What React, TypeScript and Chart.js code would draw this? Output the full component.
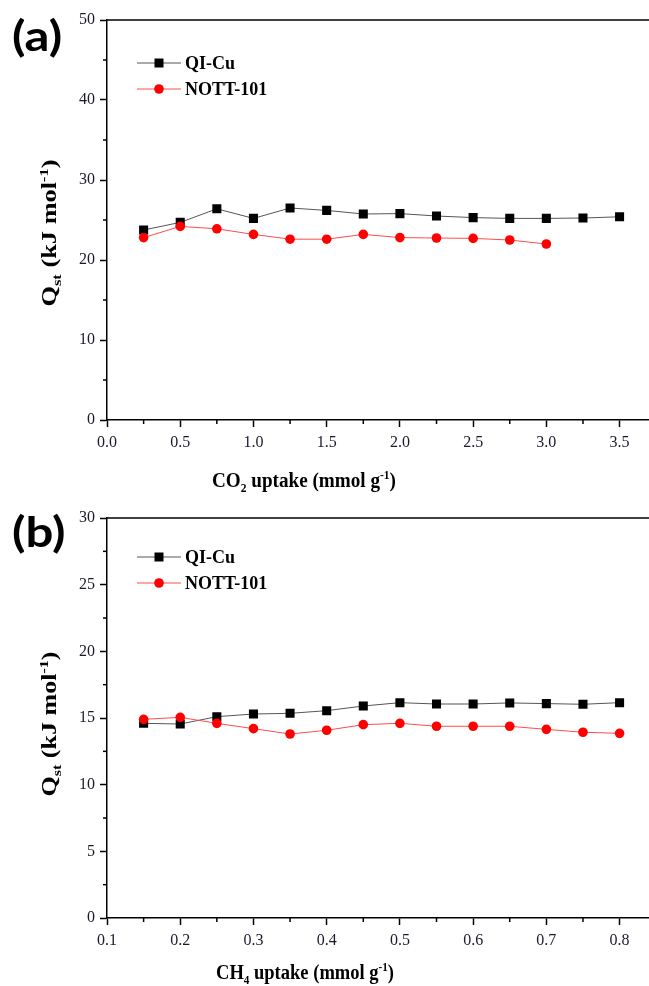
import React, { useEffect, useRef } from "react";
import { Chart, registerables } from "chart.js";
Chart.register(...registerables);

// ---------- data ----------
const co2Uptake = [0.25, 0.5, 0.75, 1.0, 1.25, 1.5, 1.75, 2.0, 2.25, 2.5, 2.75, 3.0, 3.25, 3.5];
const qiCuCO2 = [23.75, 24.7, 26.4, 25.2, 26.5, 26.2, 25.75, 25.8, 25.5, 25.3, 25.2, 25.2, 25.25, 25.4];
const nott101CO2 = [22.8, 24.2, 23.9, 23.2, 22.6, 22.6, 23.2, 22.8, 22.75, 22.7, 22.5, 22.0];

const ch4Uptake = [0.15, 0.2, 0.25, 0.3, 0.35, 0.4, 0.45, 0.5, 0.55, 0.6, 0.65, 0.7, 0.75, 0.8];
const qiCuCH4 = [14.6, 14.55, 15.1, 15.3, 15.35, 15.55, 15.9, 16.15, 16.05, 16.05, 16.13, 16.08, 16.03, 16.15];
const nott101CH4 = [14.9, 15.05, 14.6, 14.2, 13.8, 14.08, 14.5, 14.6, 14.38, 14.38, 14.38, 14.15, 13.93, 13.85];

const seriesNames = ["QI-Cu", "NOTT-101"];

const co2MajorTicks = [0, 0.5, 1.0, 1.5, 2.0, 2.5, 3.0, 3.5];
const co2MinorTicks = [0.25, 0.75, 1.25, 1.75, 2.25, 2.75, 3.25];
const qstMajorTicksA = [0, 10, 20, 30, 40, 50];
const qstMinorTicksA = [5, 15, 25, 35, 45];

const ch4MajorTicks = [0.1, 0.2, 0.3, 0.4, 0.5, 0.6, 0.7, 0.8];
const ch4MinorTicks = [0.15, 0.25, 0.35, 0.45, 0.55, 0.65, 0.75];
const qstMajorTicksB = [0, 5, 10, 15, 20, 25, 30];
const qstMinorTicksB = [2.5, 7.5, 12.5, 17.5, 22.5, 27.5];

const SERIF = '"Liberation Serif", "Times New Roman", serif';
const CANVAS_W = 656;

type Seg = { t: string; k?: "sub" | "sup" };

function segFont(size: number, k?: string) {
  return k ? `bold ${Math.round(size * 0.62)}px ${SERIF}` : `bold ${size}px ${SERIF}`;
}

function drawRich(ctx: CanvasRenderingContext2D, segs: Seg[], cx: number, baseY: number, size: number, targetW: number) {
  let w = 0;
  segs.forEach((s) => {
    ctx.font = segFont(size, s.k);
    w += ctx.measureText(s.t).width;
  });
  const sx = targetW / w;
  ctx.save();
  ctx.translate(cx - targetW / 2, baseY);
  ctx.scale(sx, 1);
  let x = 0;
  ctx.textBaseline = "alphabetic";
  ctx.textAlign = "left";
  segs.forEach((s) => {
    ctx.font = segFont(size, s.k);
    const dy = s.k === "sub" ? size * 0.25 : s.k === "sup" ? -size * 0.4 : 0;
    ctx.fillText(s.t, x, dy);
    x += ctx.measureText(s.t).width;
  });
  ctx.restore();
}

type PanelCfg = {
  height: number;
  top: number;
  xAxisHeight: number;
  xs: number[];
  qi: number[];
  nott: number[];
  xMin: number;
  xMax: number;
  yMax: number;
  xMajor: number[];
  xMinor: number[];
  yMajor: number[];
  yMinor: number[];
  panel: string;
  panelY: number;
  xTitle: Seg[];
  xTitleX: number;
  xTitleY: number;
  xTitleW: number;
  yTitleCenter: number;
  yTitleW: number;
  legendY: number[];
};

const panelA: PanelCfg = {
  height: 495,
  top: 20,
  xAxisHeight: 75,
  xs: co2Uptake,
  qi: qiCuCO2,
  nott: nott101CO2,
  xMin: 0,
  xMax: 3.705,
  yMax: 50,
  xMajor: co2MajorTicks,
  xMinor: co2MinorTicks,
  yMajor: qstMajorTicksA,
  yMinor: qstMinorTicksA,
  panel: "(a)",
  panelY: 37,
  xTitle: [{ t: "CO" }, { t: "2", k: "sub" }, { t: " uptake (mmol g" }, { t: "-1", k: "sup" }, { t: ")" }],
  xTitleX: 304,
  xTitleY: 487,
  xTitleW: 184,
  yTitleCenter: 233,
  yTitleW: 147,
  legendY: [63, 89],
};

const panelB: PanelCfg = {
  height: 491,
  top: 23,
  xAxisHeight: 68,
  xs: ch4Uptake,
  qi: qiCuCH4,
  nott: nott101CH4,
  xMin: 0.1,
  xMax: 0.841,
  yMax: 30,
  xMajor: ch4MajorTicks,
  xMinor: ch4MinorTicks,
  yMajor: qstMajorTicksB,
  yMinor: qstMinorTicksB,
  panel: "(b)",
  panelY: 38,
  xTitle: [{ t: "CH" }, { t: "4", k: "sub" }, { t: " uptake (mmol g" }, { t: "-1", k: "sup" }, { t: ")" }],
  xTitleX: 305,
  xTitleY: 484,
  xTitleW: 178,
  yTitleCenter: 229,
  yTitleW: 145,
  legendY: [62, 88],
};

const yTitle: Seg[] = [{ t: "Q" }, { t: "st", k: "sub" }, { t: " (kJ mol" }, { t: "-1", k: "sup" }, { t: ")" }];

function Panel({ cfg }: { cfg: PanelCfg }) {
  const ref = useRef<HTMLCanvasElement>(null);
  useEffect(() => {
    if (!ref.current) return;
    const decor = {
      id: "decor",
      afterDraw(chart: any) {
        const ctx: CanvasRenderingContext2D = chart.ctx;
        const a = chart.chartArea;
        const xs = chart.scales.x;
        const ys = chart.scales.y;
        ctx.save();
        ctx.strokeStyle = "#000";
        ctx.lineWidth = 1.5;
        // top frame line
        ctx.beginPath();
        ctx.moveTo(a.left, a.top);
        ctx.lineTo(a.right, a.top);
        ctx.stroke();
        // minor ticks
        cfg.xMinor.forEach((v) => {
          const px = xs.getPixelForValue(v);
          ctx.beginPath();
          ctx.moveTo(px, a.bottom);
          ctx.lineTo(px, a.bottom + 4);
          ctx.stroke();
        });
        cfg.yMinor.forEach((v) => {
          const py = ys.getPixelForValue(v);
          ctx.beginPath();
          ctx.moveTo(a.left - 4, py);
          ctx.lineTo(a.left, py);
          ctx.stroke();
        });
        ctx.fillStyle = "#000";
        // x title
        drawRich(ctx, cfg.xTitle, cfg.xTitleX, cfg.xTitleY, 20, cfg.xTitleW);
        // y title (rotated)
        ctx.save();
        ctx.translate(56, cfg.yTitleCenter);
        ctx.rotate(-Math.PI / 2);
        drawRich(ctx, yTitle, 0, 0, 21, cfg.yTitleW);
        ctx.restore();
        // legend
        const styles = [
          { line: "#555", fill: "#000", shape: "rect" },
          { line: "#ff4d4d", fill: "#ff0000", shape: "circle" },
        ];
        seriesNames.forEach((name, i) => {
          const y = cfg.legendY[i];
          const st = styles[i];
          ctx.strokeStyle = st.line;
          ctx.lineWidth = 1;
          ctx.beginPath();
          ctx.moveTo(137, y);
          ctx.lineTo(181, y);
          ctx.stroke();
          ctx.fillStyle = st.fill;
          if (st.shape === "rect") {
            ctx.fillRect(159 - 4.5, y - 4.5, 9, 9);
          } else {
            ctx.beginPath();
            ctx.arc(159, y, 4.8, 0, Math.PI * 2);
            ctx.fill();
          }
          ctx.fillStyle = "#000";
          ctx.font = `bold 18px ${SERIF}`;
          ctx.textAlign = "left";
          ctx.textBaseline = "middle";
          ctx.fillText(name, 185, y + 1);
        });
        // panel label
        ctx.save();
        ctx.translate(12, cfg.panelY);
        ctx.scale(1.17, 1);
        ctx.font = 'bold 42px Lato, "Open Sans", sans-serif';
        ctx.textAlign = "left";
        ctx.textBaseline = "middle";
        ctx.fillStyle = "#000";
        ctx.fillText(cfg.panel, 0, 0);
        ctx.restore();
        ctx.restore();
      },
    };

    const chart = new Chart(ref.current, {
      type: "line",
      data: {
        datasets: [
          {
            label: seriesNames[0],
            data: cfg.xs.map((x, i) => ({ x, y: cfg.qi[i] })),
            borderColor: "#555",
            borderWidth: 1,
            pointStyle: "rect",
            pointRadius: 6.4,
            pointBackgroundColor: "#000",
            pointBorderColor: "#000",
            pointBorderWidth: 0,
            order: 1,
          },
          {
            label: seriesNames[1],
            data: cfg.nott.map((y, i) => ({ x: cfg.xs[i], y })),
            borderColor: "#ff4d4d",
            borderWidth: 1,
            pointStyle: "circle",
            pointRadius: 4.8,
            pointBackgroundColor: "#ff0000",
            pointBorderColor: "#ff0000",
            pointBorderWidth: 0,
            order: 0,
          },
        ],
      },
      options: {
        animation: false,
        responsive: false,
        devicePixelRatio: 1,
        layout: { padding: { top: cfg.top, right: 0, left: 0, bottom: 0 } },
        plugins: { legend: { display: false }, tooltip: { enabled: false } },
        scales: {
          x: {
            type: "linear",
            min: cfg.xMin,
            max: cfg.xMax,
            afterBuildTicks: (s: any) => {
              s.ticks = cfg.xMajor.map((v) => ({ value: v }));
            },
            afterFit: (s: any) => {
              s.height = cfg.xAxisHeight;
            },
            ticks: {
              autoSkip: false,
              maxRotation: 0,
              padding: 6,
              color: "#1a1a2e",
              font: { family: SERIF, size: 16 },
              callback: (v: any) => Number(v).toFixed(1),
            },
            grid: {
              display: true,
              drawOnChartArea: false,
              drawTicks: true,
              tickLength: 7,
              tickColor: "#000",
              tickWidth: 1.5,
            },
            border: { display: true, color: "#000", width: 1.5 },
          },
          y: {
            type: "linear",
            min: 0,
            max: cfg.yMax,
            afterBuildTicks: (s: any) => {
              s.ticks = cfg.yMajor.map((v) => ({ value: v }));
            },
            afterFit: (s: any) => {
              s.width = 107;
            },
            ticks: {
              autoSkip: false,
              padding: 5,
              color: "#1a1a2e",
              font: { family: SERIF, size: 16 },
              callback: (v: any) => String(v),
            },
            grid: {
              display: true,
              drawOnChartArea: false,
              drawTicks: true,
              tickLength: 7,
              tickColor: "#000",
              tickWidth: 1.5,
            },
            border: { display: true, color: "#000", width: 1.5 },
          },
        },
      } as any,
      plugins: [decor],
    });
    return () => chart.destroy();
  }, [cfg]);
  return (
    <canvas
      ref={ref}
      width={CANVAS_W}
      height={cfg.height}
      style={{ display: "block", width: CANVAS_W, height: cfg.height }}
    />
  );
}

export default function App() {
  return (
    <div style={{ position: "absolute", left: 0, top: 0, width: 649, height: 986, background: "#fff", overflow: "hidden" }}>
      <Panel cfg={panelA} />
      <Panel cfg={panelB} />
    </div>
  );
}
